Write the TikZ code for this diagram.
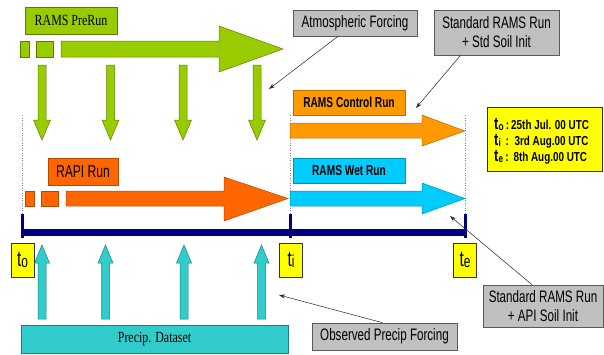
\documentclass[tikz,border=0pt]{standalone}
\usepackage{fontspec}
\setmainfont{Liberation Sans}
\newfontfamily\arf[FakeStretch=0.7]{Liberation Sans}
\newfontfamily\arm[FakeStretch=0.76]{Liberation Sans}
\newfontfamily\tmf[FakeStretch=0.77]{Liberation Serif}
\usetikzlibrary{arrows.meta}
\definecolor{grn}{HTML}{99CC00}
\definecolor{grnD}{HTML}{5E7D00}
\definecolor{org}{HTML}{FF9900}
\definecolor{orgD}{HTML}{B86E00}
\definecolor{rap}{HTML}{FF6600}
\definecolor{rapD}{HTML}{B84A00}
\definecolor{cyn}{HTML}{00CCFF}
\definecolor{cynD}{HTML}{0090B8}
\definecolor{tea}{HTML}{33CCCC}
\definecolor{teaD}{HTML}{1E7F7F}
\definecolor{yel}{HTML}{FFFF00}
\definecolor{gry}{HTML}{C0C0C0}
\definecolor{gryD}{HTML}{5A5A5A}
\definecolor{nvy}{HTML}{000080}
\newcommand\tlab[1]{{\fontsize{22}{22}\selectfont t}\raisebox{-1.5pt}{\fontsize{17}{17}\selectfont #1}}
\newcommand\tinf[1]{{\fontsize{17}{17}\selectfont t}\raisebox{-1pt}{\fontsize{11}{11}\selectfont #1}}
\tikzset{
  box/.style={draw, inner sep=0pt, anchor=center, line width=0.6pt},
  graybox/.style={box, fill=gry, draw=gryD, align=center, font=\arf\fontsize{16.6}{19}\selectfont},
  grnshape/.style={fill=grn, draw=grnD, line width=0.5pt},
  orgshape/.style={fill=org, draw=orgD, line width=0.5pt},
  rapshape/.style={fill=rap, draw=rapD, line width=0.5pt},
  cynshape/.style={fill=cyn, draw=cynD, line width=0.5pt},
  teashape/.style={fill=tea, draw=teaD, line width=0.5pt},
  tbox/.style={box, fill=yel, draw=black!80, minimum width=23pt, minimum height=34pt, font=\arf},
  infotxt/.style={anchor=base west, inner sep=0pt, font=\arm\bfseries\fontsize{13}{14}\selectfont},
  conn/.style={draw=black!85, line width=0.5pt, -{Stealth[length=6pt,width=4pt]}},
  dots/.style={draw=black!45, dotted, line width=0.5pt}
}
\begin{document}
\begin{tikzpicture}[x=1pt,y=-1pt]
\useasboundingbox (0,0) rectangle (604,354);
\fill[white] (0,0) rectangle (604,354);

% dotted guides
\draw[dots] (22,115) -- (22,214);
\draw[dots] (290,115) -- (290,214);
\draw[dots] (465,115) -- (465,214);

% green prerun
\node[box, fill=grn, draw=grnD, minimum width=92pt, minimum height=27pt, font=\tmf\fontsize{15.5}{16}\selectfont] (prerun) at (71,20.5) {RAMS PreRun};
\draw[grnshape] (20,41) rectangle (29,57);
\draw[grnshape] (36,41) rectangle (53,57);
\draw[grnshape] (61,41) -- (219,41) -- (219,26) -- (283,49) -- (219,72) -- (219,57) -- (61,57) -- cycle;
\foreach \c in {42,110.5,183,257}{
  \draw[grnshape] (\c-4,65) -- (\c+4,65) -- (\c+4,120) -- (\c+8.5,120) -- (\c,140) -- (\c-8.5,120) -- (\c-4,120) -- cycle;
}

% gray boxes
\node[graybox, minimum width=124pt, minimum height=26pt] (atm) at (355,23) {Atmospheric Forcing};
\node[graybox, minimum width=125pt, minimum height=45pt] (stdsoil) at (496.5,32.5) {Standard RAMS Run\\+ Std Soil Init};
\node[graybox, minimum width=145pt, minimum height=27pt] (obs) at (384.5,336.5) {Observed Precip Forcing};
\node[graybox, minimum width=120pt, minimum height=42pt] (apisoil) at (543,306) {Standard RAMS Run\\+ API Soil Init};

% control run
\node[box, fill=org, draw=orgD, minimum width=112pt, minimum height=25pt, font=\arf\bfseries\fontsize{14.5}{16}\selectfont] (ctrl) at (349,102.5) {RAMS Control Run};
\draw[orgshape] (290,123) -- (422,123) -- (422,115) -- (465,131) -- (422,146) -- (422,138) -- (290,138) -- cycle;

% wet run
\node[box, fill=cyn, draw=cynD, minimum width=112pt, minimum height=25pt, font=\arf\bfseries\fontsize{14.5}{16}\selectfont] (wet) at (349,170.5) {RAMS Wet Run};
\draw[cynshape] (290,191) -- (422,191) -- (422,183) -- (465,198.5) -- (422,214) -- (422,206) -- (290,206) -- cycle;

% RAPI run
\node[box, fill=rap, draw=rapD, minimum width=70pt, minimum height=27pt, font=\arf\fontsize{17.3}{18}\selectfont] (rapi) at (83,171.5) {RAPI Run};
\draw[rapshape] (25,191) rectangle (34,206);
\draw[rapshape] (41,191) rectangle (58,206);
\draw[rapshape] (66,191) -- (224,191) -- (224,177) -- (288,198.5) -- (224,221) -- (224,206) -- (66,206) -- cycle;

% info box
\node[box, fill=yel, draw=black!80, minimum width=115pt, minimum height=64pt] (info) at (544.5,139) {};
\node[infotxt] (l1) at (494,129) {\tinf{o}\,:\,25th Jul. 00 UTC};
\node[infotxt] (l2) at (494,145) {\tinf{i}\ \,:\ \ 3rd Aug.00 UTC};
\node[infotxt] (l3) at (494,161) {\tinf{e}\,:\ \,8th Aug.00 UTC};

% timeline
\fill[nvy] (22,229) rectangle (465,236);
\fill[nvy] (20.5,214) rectangle (23.5,238);
\fill[nvy] (288.5,214) rectangle (291.5,238);
\fill[nvy] (463.5,214) rectangle (466.5,238);

% time labels
\node[tbox] (t0) at (22.5,260) {\tlab{o}};
\node[tbox] (ti) at (291,260) {\tlab{i}};
\node[tbox] (te) at (465,260) {\tlab{e}};

% cyan up arrows
\foreach \c in {42,105.5,184,261.5}{
  \draw[teashape] (\c-4,319) -- (\c+4,319) -- (\c+4,263) -- (\c+7.5,263) -- (\c,245) -- (\c-7.5,263) -- (\c-4,263) -- cycle;
}
\node[box, fill=tea, draw=teaD, minimum width=267pt, minimum height=28pt, font=\tmf\fontsize{15.5}{16}\selectfont] (precip) at (154.5,339) {Precip. Dataset};

% connectors
\coordinate (atmT) at (269,89);
\coordinate (stdT) at (416,108);
\coordinate (obsT) at (279,295);
\coordinate (apiT) at (450,216);
\draw[conn] ([xshift=-17pt]atm.south) -- (atmT);
\draw[conn] ([xshift=-36pt]stdsoil.south) -- (stdT);
\draw[conn] ([xshift=-2pt]obs.north) -- (obsT);
\draw[conn] ([xshift=-11pt]apisoil.north) -- (apiT);
\end{tikzpicture}
\end{document}
